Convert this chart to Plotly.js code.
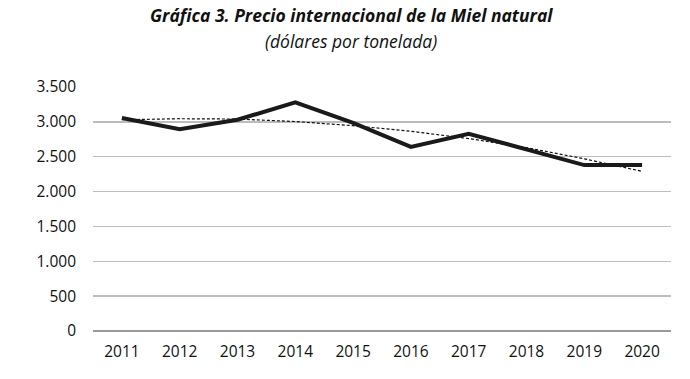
<!DOCTYPE html>
<html><head><meta charset="utf-8">
<script src="https://cdn.plot.ly/plotly-3.0.1.min.js"></script>
<style>body{margin:0;background:#fff}#c{width:690px;height:379px}</style>
</head><body><div id="c"></div>
<script>
const years = ['2011','2012','2013','2014','2015','2016','2017','2018','2019','2020'];
const price = [3055, 2895, 3030, 3280, 2985, 2640, 2830, 2610, 2380, 2380];
const trend = [3030, 3045, 3040, 3005, 2945, 2865, 2760, 2630, 2470, 2290];
const yTicks = [0, 500, 1000, 1500, 2000, 2500, 3000, 3500];

const font = 'Open Sans, Lato, sans-serif';
Plotly.newPlot('c', [
  {x: years, y: trend, type: 'scatter', mode: 'lines', line: {color: '#111', width: 1.2, dash: '3px,2px'}, hoverinfo: 'skip'},
  {x: years, y: price, type: 'scatter', mode: 'lines', line: {color: '#1a1a1a', width: 4}}
], {
  width: 690, height: 379,
  margin: {l: 93, r: 19, t: 87, b: 48},
  paper_bgcolor: '#fff', plot_bgcolor: '#fff',
  showlegend: false,
  separators: ',.',
  font: {family: font, color: '#111', size: 15.5},
  xaxis: {type: 'category', range: [-0.5, 9.5], showgrid: false, showline: false, zeroline: false, ticks: '', ticklabelstandoff: 9, tickfont: {size: 15.5, color: '#111'}},
  yaxis: {range: [0, 3500], tickvals: yTicks, tickformat: ',d', showgrid: true, gridcolor: '#bdbdbd', gridwidth: 1.3, zeroline: true, zerolinecolor: '#9a9a9a', zerolinewidth: 1.5, showline: false, ticks: '', ticklabelstandoff: 16, tickfont: {size: 15.5, color: '#111'}},
  annotations: [
    {text: '<b><i>Gráfica 3. Precio internacional de la Miel natural</i></b>', xref: 'paper', yref: 'paper', x: 0.447, y: 1, yshift: 72, showarrow: false, xanchor: 'center', yanchor: 'middle', font: {family: font, size: 17.5, color: '#111'}},
    {text: '<i>(dólares por tonelada)</i>', xref: 'paper', yref: 'paper', x: 0.447, y: 1, yshift: 46, showarrow: false, xanchor: 'center', yanchor: 'middle', font: {family: font, size: 17.5, color: '#111'}}
  ]
}, {displayModeBar: false, staticPlot: true});
</script></body></html>
